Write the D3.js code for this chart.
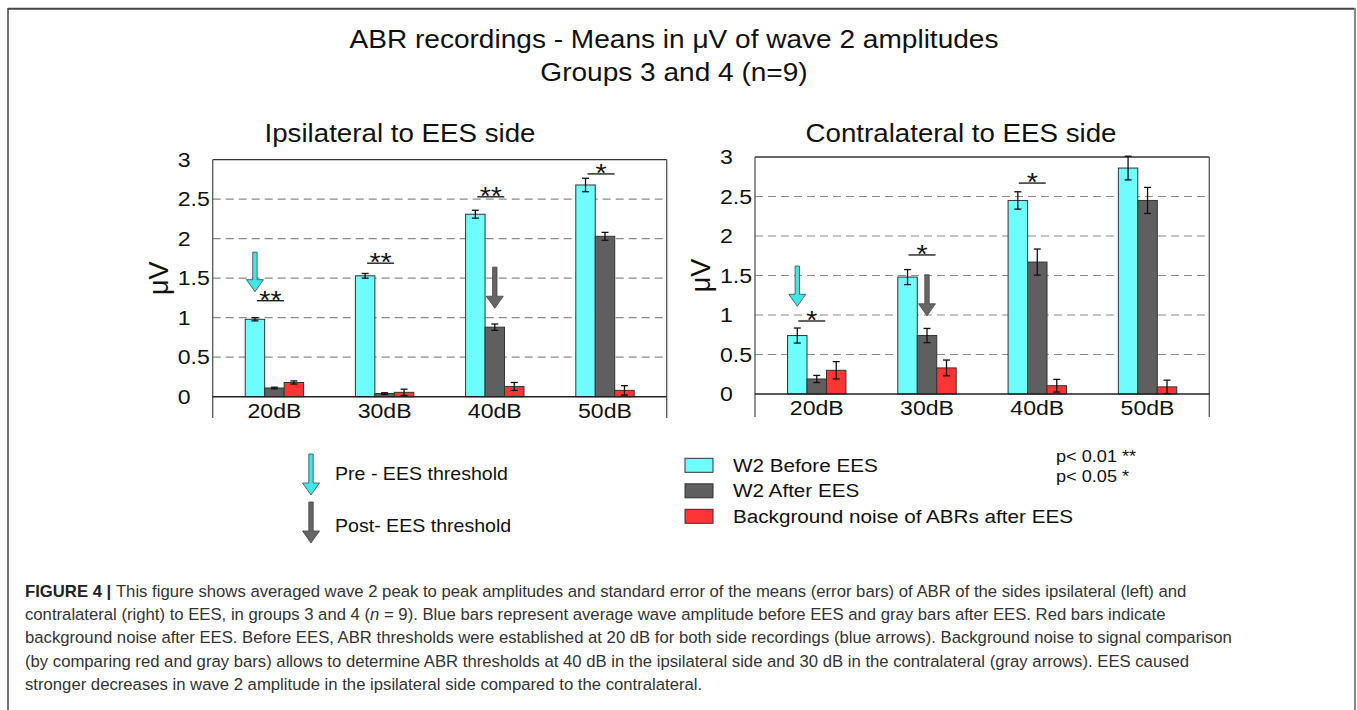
<!doctype html>
<html lang="en">
<head>
<meta charset="utf-8">
<title>ABR recordings - wave 2 amplitudes</title>
<style>
  body { margin: 0; background: #fff; }
  text { font-family: "Liberation Sans", Arial, Helvetica, sans-serif; fill: #111; }
  .caption text, .caption { fill: #333; }
</style>
<script src="https://cdn.jsdelivr.net/npm/d3@7"></script>
</head>
<body>
<div id="chart"></div>
<script>
// ---- data ----
var categories = ['20dB', '30dB', '40dB', '50dB'];
var seriesNames = ['W2 Before EES', 'W2 After EES', 'Background noise of ABRs after EES'];
var tickValues = [0, 0.5, 1, 1.5, 2, 2.5, 3];
var tickLabels = ['0', '0.5', '1', '1.5', '2', '2.5', '3'];

// ipsilateral side
var ipsiBefore    = [0.98, 1.53, 2.31, 2.68];
var ipsiBeforeErr = [0.02, 0.03, 0.05, 0.085];
var ipsiAfter     = [0.11, 0.04, 0.88, 2.03];
var ipsiAfterErr  = [0.01, 0.01, 0.04, 0.05];
var ipsiNoise     = [0.18, 0.055, 0.13, 0.08];
var ipsiNoiseErr  = [0.02, 0.04, 0.05, 0.06];
var ipsiSig = [
  {cat: '20dB', level: 1.215, mark: '**'},
  {cat: '30dB', level: 1.69, mark: '**'},
  {cat: '40dB', level: 2.53, mark: '**'},
  {cat: '50dB', level: 2.82, mark: '*'}
];
var ipsiArrows = [
  {cat: '20dB', series: 0, from: 1.83, to: 1.33},
  {cat: '40dB', series: 1, from: 1.64, to: 1.12}
];

// contralateral side
var contraBefore    = [0.74, 1.48, 2.45, 2.86];
var contraBeforeErr = [0.095, 0.095, 0.11, 0.15];
var contraAfter     = [0.19, 0.74, 1.67, 2.45];
var contraAfterErr  = [0.045, 0.09, 0.165, 0.165];
var contraNoise     = [0.30, 0.33, 0.105, 0.09];
var contraNoiseErr  = [0.11, 0.10, 0.08, 0.085];
var contraSig = [
  {cat: '20dB', level: 0.924, mark: '*'},
  {cat: '30dB', level: 1.76, mark: '*'},
  {cat: '40dB', level: 2.67, mark: '*'}
];
var contraArrows = [
  {cat: '20dB', series: 0, from: 1.62, to: 1.11},
  {cat: '30dB', series: 1, from: 1.51, to: 0.99}
];

var captionLines = [
  'This figure shows averaged wave 2 peak to peak amplitudes and standard error of the means (error bars) of ABR of the sides ipsilateral (left) and',
  'contralateral (right) to EES, in groups 3 and 4 (|n| = 9). Blue bars represent average wave amplitude before EES and gray bars after EES. Red bars indicate',
  'background noise after EES. Before EES, ABR thresholds were established at 20 dB for both side recordings (blue arrows). Background noise to signal comparison',
  '(by comparing red and gray bars) allows to determine ABR thresholds at 40 dB in the ipsilateral side and 30 dB in the contralateral (gray arrows). EES caused',
  'stronger decreases in wave 2 amplitude in the ipsilateral side compared to the contralateral.'
];

// ---- styles ----
var colors = ['#6ffcfc', '#5f5f5f', '#ff3535'];
var arrowColors = ['#3fe6e6', '#666666'];
var SX = 1.1; // the figure text is a bit wider than tall

var W = 1357, H = 710;
var svg = d3.select('#chart').append('svg')
  .attr('width', W)
  .attr('height', H);

function txt(parent, x, y, s, size, anchor) {
  return parent.append('text')
    .attr('transform', 'translate(' + x + ',' + y + ') scale(' + SX + ',1)')
    .attr('font-size', size)
    .attr('text-anchor', anchor || 'start')
    .text(s);
}

// arrow polygon pointing down from (x,y1) to (x,y2)
function arrowPath(x, y1, y2) {
  var sw = 2.2, hw = 8.5, hl = 12;
  return d3.line()([
    [x - sw, y1], [x + sw, y1], [x + sw, y2 - hl], [x + hw, y2 - hl],
    [x, y2], [x - hw, y2 - hl], [x - sw, y2 - hl]
  ]) + 'Z';
}

// outer figure border
svg.append('line').attr('x1', 8).attr('x2', 1355).attr('y1', 8.7).attr('y2', 8.7)
  .style('stroke', '#444').style('stroke-width', 2);
svg.append('line').attr('x1', 8).attr('x2', 8).attr('y1', 8).attr('y2', H)
  .style('stroke', '#444').style('stroke-width', 1.5);
svg.append('line').attr('x1', 1355).attr('x2', 1355).attr('y1', 8).attr('y2', H)
  .style('stroke', '#888').style('stroke-width', 2);

// main title
txt(svg, 674, 48, 'ABR recordings - Means in \u03bcV of wave 2 amplitudes', 25.5, 'middle');
txt(svg, 674, 81, 'Groups 3 and 4 (n=9)', 25.5, 'middle');

function drawPanel(p) {
  var g = svg.append('g');

  var y = d3.scaleLinear().domain([0, 3]).range([p.zero, p.top]);
  var xg = d3.scalePoint().domain(categories).range([p.x0, p.x1]).padding(0.56);
  var xs = d3.scaleBand().domain(d3.range(seriesNames.length)).range([-29.2, 29.2]);
  var bw = xs.bandwidth();

  txt(g, p.titleX, 142, p.title, 25.2, 'middle');

  // dashed grid
  g.selectAll('.grid').data(tickValues.filter(function(v) { return v > 0 && v < 3; }))
    .enter().append('line')
    .attr('x1', p.x0).attr('x2', p.x1)
    .attr('y1', function(d) { return y(d); })
    .attr('y2', function(d) { return y(d); })
    .style('stroke', '#8a8a8a')
    .style('stroke-width', 1.2)
    .style('stroke-dasharray', '8,5');

  // frame (no bottom edge)
  g.append('line').attr('x1', p.x0).attr('x2', p.x1).attr('y1', y(3)).attr('y2', y(3))
    .style('stroke', '#333').style('stroke-width', 1.3);
  g.append('line').attr('x1', p.x0).attr('x2', p.x0).attr('y1', y(3)).attr('y2', p.bottom)
    .style('stroke', '#555').style('stroke-width', 1.3);
  g.append('line').attr('x1', p.x1).attr('x2', p.x1).attr('y1', y(3)).attr('y2', p.bottom)
    .style('stroke', '#555').style('stroke-width', 1.3);

  // y tick labels
  tickValues.forEach(function(v, i) {
    txt(g, p.x0 - 35, y(v) + 7, tickLabels[i], 21, 'start');
  });

  // y axis title
  g.append('text')
    .attr('transform', 'translate(' + (p.x0 - 45) + ',' + ((y(0) + y(3)) / 2) + ') rotate(-90)')
    .attr('font-size', 27)
    .attr('text-anchor', 'middle')
    .text('\u03bcV');

  // bars
  var vals = p.values, errs = p.errors;
  seriesNames.forEach(function(name, si) {
    g.selectAll('.bar' + si).data(categories)
      .enter().append('rect')
      .attr('x', function(c) { return xg(c) + xs(si); })
      .attr('width', bw)
      .attr('y', function(c, i) { return y(vals[si][i]); })
      .attr('height', function(c, i) { return y(0) - y(vals[si][i]); })
      .style('fill', colors[si])
      .style('stroke', '#333')
      .style('stroke-width', 1);
  });

  // baseline
  g.append('line').attr('x1', p.x0).attr('x2', p.x1).attr('y1', y(0)).attr('y2', y(0))
    .style('stroke', '#222').style('stroke-width', 1.5);

  // error bars
  seriesNames.forEach(function(name, si) {
    categories.forEach(function(c, i) {
      var cx = xg(c) + xs(si) + bw / 2;
      var lo = y(vals[si][i] - errs[si][i]), hi = y(vals[si][i] + errs[si][i]);
      g.append('line').attr('x1', cx).attr('x2', cx).attr('y1', lo).attr('y2', hi)
        .style('stroke', '#111').style('stroke-width', 1.3);
      [lo, hi].forEach(function(yy) {
        g.append('line').attr('x1', cx - 3.5).attr('x2', cx + 3.5).attr('y1', yy).attr('y2', yy)
          .style('stroke', '#111').style('stroke-width', 1.3);
      });
    });
  });

  // x labels
  categories.forEach(function(c) {
    txt(g, xg(c), p.zero + 21, c, 21, 'middle');
  });

  // significance markers
  p.sig.forEach(function(s) {
    var cx = xg(s.cat) + p.sigShift;
    g.append('line').attr('x1', cx - 13.5).attr('x2', cx + 13.5)
      .attr('y1', y(s.level)).attr('y2', y(s.level))
      .style('stroke', '#111').style('stroke-width', 1.3);
    txt(g, cx, y(s.level) + 8, s.mark, 26, 'middle');
  });

  // threshold arrows
  p.arrows.forEach(function(a) {
    var cx = xg(a.cat) + xs(a.series) + bw / 2;
    g.append('path')
      .attr('d', arrowPath(cx, y(a.from), y(a.to)))
      .style('fill', arrowColors[a.series])
      .style('stroke', '#444')
      .style('stroke-width', 0.8);
  });
}

drawPanel({
  title: 'Ipsilateral to EES side', titleX: 400,
  x0: 212.7, x1: 666.7, zero: 396.7, top: 159.7, bottom: 418,
  values: [ipsiBefore, ipsiAfter, ipsiNoise],
  errors: [ipsiBeforeErr, ipsiAfterErr, ipsiNoiseErr],
  sig: ipsiSig, arrows: ipsiArrows, sigShift: -4
});

drawPanel({
  title: 'Contralateral to EES side', titleX: 961,
  x0: 755, x1: 1209.3, zero: 394, top: 157, bottom: 417,
  values: [contraBefore, contraAfter, contraNoise],
  errors: [contraBeforeErr, contraAfterErr, contraNoiseErr],
  sig: contraSig, arrows: contraArrows, sigShift: -5
});

// arrow legend
var leg = svg.append('g');
leg.append('path').attr('d', arrowPath(311, 454, 495))
  .style('fill', arrowColors[0]).style('stroke', '#444').style('stroke-width', 0.8);
leg.append('path').attr('d', arrowPath(311, 502, 543))
  .style('fill', arrowColors[1]).style('stroke', '#444').style('stroke-width', 0.8);
txt(leg, 335, 480, 'Pre - EES threshold', 17.8, 'start');
txt(leg, 335, 532, 'Post- EES threshold', 17.8, 'start');

// series legend
seriesNames.forEach(function(name, i) {
  var yy = 458.3 + i * 25.5;
  leg.append('rect').attr('x', 685).attr('y', yy).attr('width', 28).attr('height', 14)
    .style('fill', colors[i]).style('stroke', '#333').style('stroke-width', 1);
  txt(leg, 733, yy + 13.5, name, 18.8, 'start');
});

txt(leg, 1056, 462, 'p< 0.01 **', 16.5, 'start');
txt(leg, 1056, 482, 'p< 0.05 *', 16.5, 'start');

// caption
var cap = svg.append('g').attr('class', 'caption');
captionLines.forEach(function(line, i) {
  var t = cap.append('text')
    .attr('x', 25)
    .attr('y', 597 + i * 23.2)
    .attr('font-size', 16.7)
    .style('fill', '#333');
  if (i === 0) {
    t.append('tspan').attr('font-weight', 'bold').style('fill', '#222').text('FIGURE 4 | ');
  }
  line.split('|').forEach(function(part, k) {
    var sp = t.append('tspan').text(part);
    if (k % 2 === 1) sp.attr('font-style', 'italic');
  });
});
</script>
</body>
</html>
